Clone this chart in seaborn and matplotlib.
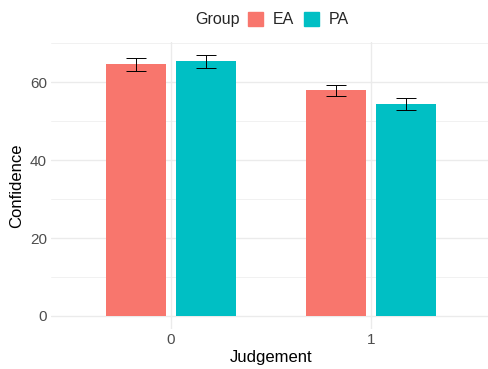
import pandas as pd
import seaborn as sns
import matplotlib.pyplot as plt
from matplotlib.ticker import MultipleLocator

judgement = ["0", "0", "1", "1"]
group = ["EA", "PA", "EA", "PA"]
confidence = [64.6, 65.4, 57.9, 54.4]
se = [1.65, 1.65, 1.45, 1.55]

palette = {"EA": "#F8766D", "PA": "#00BFC4"}

df = pd.DataFrame({"Judgement": judgement, "Group": group,
                   "Confidence": confidence, "se": se})

sns.set_theme(style="white")
plt.rcParams['font.family'] = ['Liberation Sans', 'DejaVu Sans']

fig = plt.figure(figsize=(4.88, 3.69), dpi=100)
ax = fig.add_axes([51 / 488, 1 - 329 / 369, 440 / 488, (329 - 42) / 369])

sns.barplot(data=df, x="Judgement", y="Confidence", hue="Group",
            palette=palette, width=0.7, gap=0.143, saturation=1,
            errorbar=None, legend=False, linewidth=0, ax=ax)

# error bars, one container per hue level
for cont, g in zip(ax.containers, ["EA", "PA"]):
    sub = df[df["Group"] == g]
    for bar, (_, row) in zip(cont, sub.iterrows()):
        xc = bar.get_x() + bar.get_width() / 2
        ax.errorbar(xc, row["Confidence"], yerr=row["se"], color="black",
                    elinewidth=0.7, capsize=7.2, capthick=0.7, zorder=5)

ax.set_xlim(-0.6, 1.6)
ax.set_ylim(-3.35, 70.35)
ax.yaxis.set_major_locator(MultipleLocator(20))
ax.yaxis.set_minor_locator(MultipleLocator(10))
ax.set_axisbelow(True)
ax.grid(which="major", color="#EBEBEB", linewidth=1.0)
ax.grid(which="minor", axis="y", color="#EBEBEB", linewidth=0.5)
for s in ax.spines.values():
    s.set_visible(False)
ax.tick_params(axis="both", which="both", length=0, labelsize=11,
               labelcolor="#4D4D4D", pad=3)
ax.set_xlabel("Judgement", fontsize=12, color="black", labelpad=2)
ax.set_ylabel("Confidence", fontsize=12, color="black", labelpad=4)

# legend on top, title to the left of keys
handles = [plt.Rectangle((0, 0), 1, 1, color=palette[g]) for g in ["EA", "PA"]]
fig.legend(handles, ["EA", "PA"], loc="center left",
           bbox_to_anchor=(248 / 488, 1 - 19.5 / 369), ncol=2, frameon=False,
           fontsize=11.5, handlelength=0.95, handleheight=0.95,
           handletextpad=0.6, columnspacing=0.6, borderpad=0,
           borderaxespad=0)
fig.text(240 / 488, 1 - 19.5 / 369, "Group", fontsize=11.5, ha="right", va="center")

fig.savefig("out.png", dpi=100)
